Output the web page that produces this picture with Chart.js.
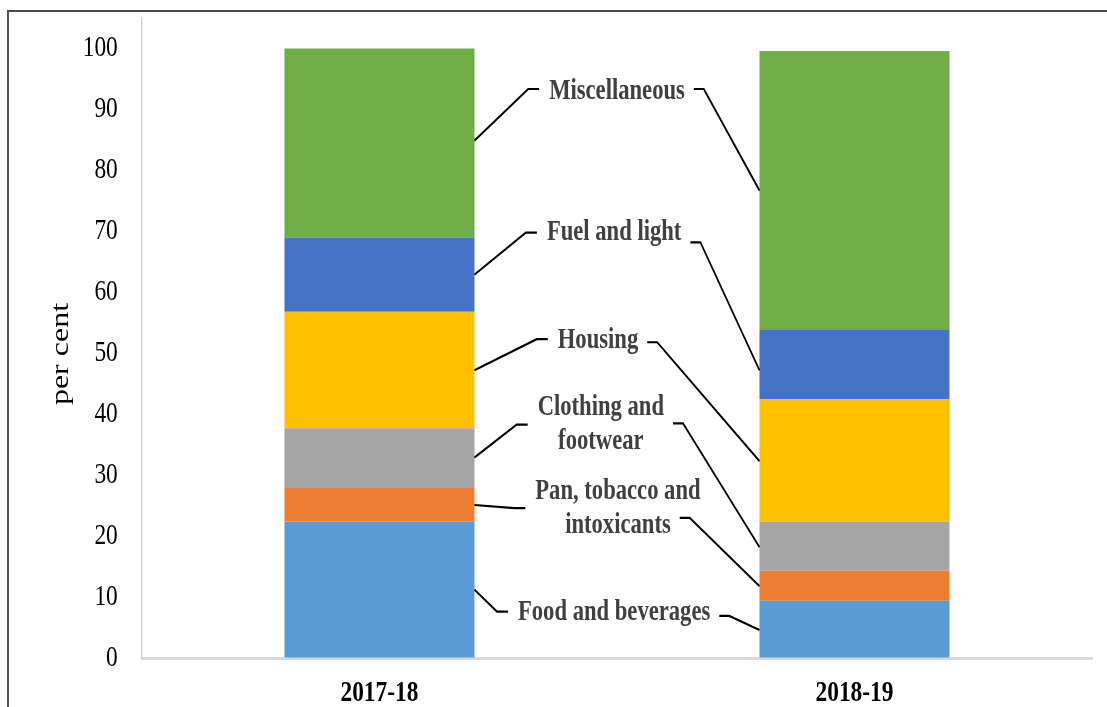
<!DOCTYPE html>
<html><head><meta charset="utf-8">
<script src="https://cdn.jsdelivr.net/npm/chart.js@4.4.1/dist/chart.umd.min.js"></script>
<style>html,body{margin:0;padding:0;background:#fff;overflow:hidden;width:1107px;height:707px}
#c{display:block}</style></head>
<body><canvas id="c" width="1419" height="707"></canvas>
<script>
// ---- data ----
const categories = ['2017-18', '2018-19'];
const seriesNames = ['Food and beverages', 'Pan, tobacco and intoxicants', 'Clothing and footwear', 'Housing', 'Fuel and light', 'Miscellaneous'];
const food = [22.4, 9.4];
const pan = [5.5, 4.9];
const clothing = [9.8, 8.1];
const housing = [19.1, 20.1];
const fuel = [12.2, 11.3];
const misc = [31.0, 45.8];
const yTicks = [0, 10, 20, 30, 40, 50, 60, 70, 80, 90, 100];
const yTitle = 'per cent';
// annotation text (multi-line labels) and where they sit, in data units
const labelLines = [['Food and beverages'], ['Pan, tobacco and', 'intoxicants'], ['Clothing and', 'footwear'], ['Housing'], ['Fuel and light'], ['Miscellaneous']];
const labelY = [7.4, 24.6, 38.3, 52.1, 69.8, 93.0];
const labelXFrac = [0.494, 0.502, 0.466, 0.46, 0.494, 0.5];
const leftDashY = [7.6, 24.6, 38.3, 52.3, 69.8, 93.35];
const rightDashY = [6.9, 23.0, 38.5, 51.8, 68.2, 93.35];
const anchorLeft = [11.2, 25.1, 32.9, 47.2, 62.9, 84.9];
const anchorRight = [4.6, 11.8, 18.2, 32.3, 47.2, 76.7];

const colors = ['#5B9BD5', '#ED7D31', '#A5A5A5', '#FFC000', '#4472C4', '#70AD47'];
const seriesValues = [food, pan, clothing, housing, fuel, misc];

const K = 0.78; // horizontal squeeze of the whole drawing (narrow serif look)
const SERIF = '"Liberation Serif", "Times New Roman", serif';

const squeeze = {
  id: 'squeeze',
  beforeDraw(chart) {
    const ctx = chart.ctx;
    ctx.save();
    ctx.scale(K, 1);
    // outer frame (top + left)
    ctx.save();
    ctx.fillStyle = '#4a4a4a';
    ctx.fillRect(8 / K - 1.2, 10, chart.width, 2);
    ctx.fillRect(8 / K - 1.2, 10, 2.4, chart.height);
    ctx.restore();
  },
  afterDatasetsDraw(chart) {
    const ctx = chart.ctx;
    const xs = chart.scales.x, ys = chart.scales.y;
    const m0 = chart.getDatasetMeta(0);
    const b0 = m0.data[0], b1 = m0.data[1];
    const leftEdge = b0.x + b0.width / 2;
    const rightEdge = b1.x - b1.width / 2;
    const cx0 = xs.getPixelForValue(0), cx1 = xs.getPixelForValue(1);
    const lh = 34;
    ctx.save();
    ctx.font = 'bold 29px ' + SERIF;
    ctx.textAlign = 'center';
    ctx.textBaseline = 'middle';
    ctx.strokeStyle = '#000';
    ctx.lineWidth = 2.2;
    ctx.lineJoin = 'miter';
    labelLines.forEach((lines, i) => {
      const cx = cx0 + labelXFrac[i] * (cx1 - cx0);
      const cy = ys.getPixelForValue(labelY[i]);
      const y0 = cy - (lines.length - 1) * lh / 2;
      const widths = lines.map(t => ctx.measureText(t).width);
      const maxW = Math.max(...widths);
      ctx.fillStyle = '#404040';
      lines.forEach((t, j) => ctx.fillText(t, cx, y0 + j * lh));
      // left leader
      const ly = ys.getPixelForValue(leftDashY[i]);
      const tl = cx - maxW / 2;
      ctx.beginPath();
      ctx.moveTo(leftEdge, ys.getPixelForValue(anchorLeft[i]));
      ctx.lineTo(tl - 21 / K, ly);
      ctx.lineTo(tl - 10 / K, ly);
      ctx.stroke();
      // right leader
      const ry = ys.getPixelForValue(rightDashY[i]);
      let w = maxW;
      lines.forEach((t, j) => { if (Math.abs(ry - (y0 + j * lh)) <= 14.5) w = widths[j]; });
      const tr = cx + w / 2;
      ctx.beginPath();
      ctx.moveTo(tr + 9 / K, ry);
      ctx.lineTo(tr + 19 / K, ry);
      ctx.lineTo(rightEdge, ys.getPixelForValue(anchorRight[i]));
      ctx.stroke();
    });
    ctx.restore();
  },
  afterDraw(chart) {
    const ctx = chart.ctx;
    const ys = chart.scales.y;
    ctx.save();
    ctx.translate(61 / K, (ys.top + ys.bottom) / 2 + 16);
    ctx.rotate(-Math.PI / 2);
    ctx.font = '32px ' + SERIF;
    ctx.fillStyle = '#000';
    ctx.textAlign = 'center';
    ctx.textBaseline = 'middle';
    ctx.fillText(yTitle, 0, 0);
    ctx.restore();
    ctx.restore(); // end squeeze
  }
};

Chart.defaults.font.family = SERIF;

new Chart(document.getElementById('c'), {
  type: 'bar',
  data: {
    labels: categories,
    datasets: seriesNames.map((name, i) => ({
      label: name,
      data: seriesValues[i],
      backgroundColor: colors[i],
      borderWidth: 0,
      barPercentage: 0.4,
      categoryPercentage: 1.0
    }))
  },
  options: {
    responsive: false,
    animation: false,
    devicePixelRatio: 1,
    layout: { padding: { top: 17, right: 19, left: 0, bottom: 0 } },
    plugins: { legend: { display: false }, tooltip: { enabled: false } },
    scales: {
      x: {
        stacked: true,
        grid: { display: true, color: 'rgba(0,0,0,0)', drawTicks: false },
        border: { display: true, color: '#d9d9d9', width: 3 },
        ticks: { color: '#000', font: { family: SERIF, size: 30, weight: 'bold' }, padding: 17, maxRotation: 0 },
        afterFit(s) { s.height = 49; }
      },
      y: {
        stacked: true,
        min: 0,
        max: 105,
        afterBuildTicks(s) { s.ticks = yTicks.map(v => ({ value: v })); },
        grid: { display: true, color: 'rgba(0,0,0,0)', drawTicks: true, tickLength: 31, tickColor: 'rgba(0,0,0,0)' },
        border: { display: true, color: '#bfbfbf', width: 1.3 },
        ticks: { color: '#000', font: { family: SERIF, size: 30 }, padding: 0 },
        afterFit(s) { s.width = 182; }
      }
    }
  },
  plugins: [squeeze]
});
</script>
</body></html>
